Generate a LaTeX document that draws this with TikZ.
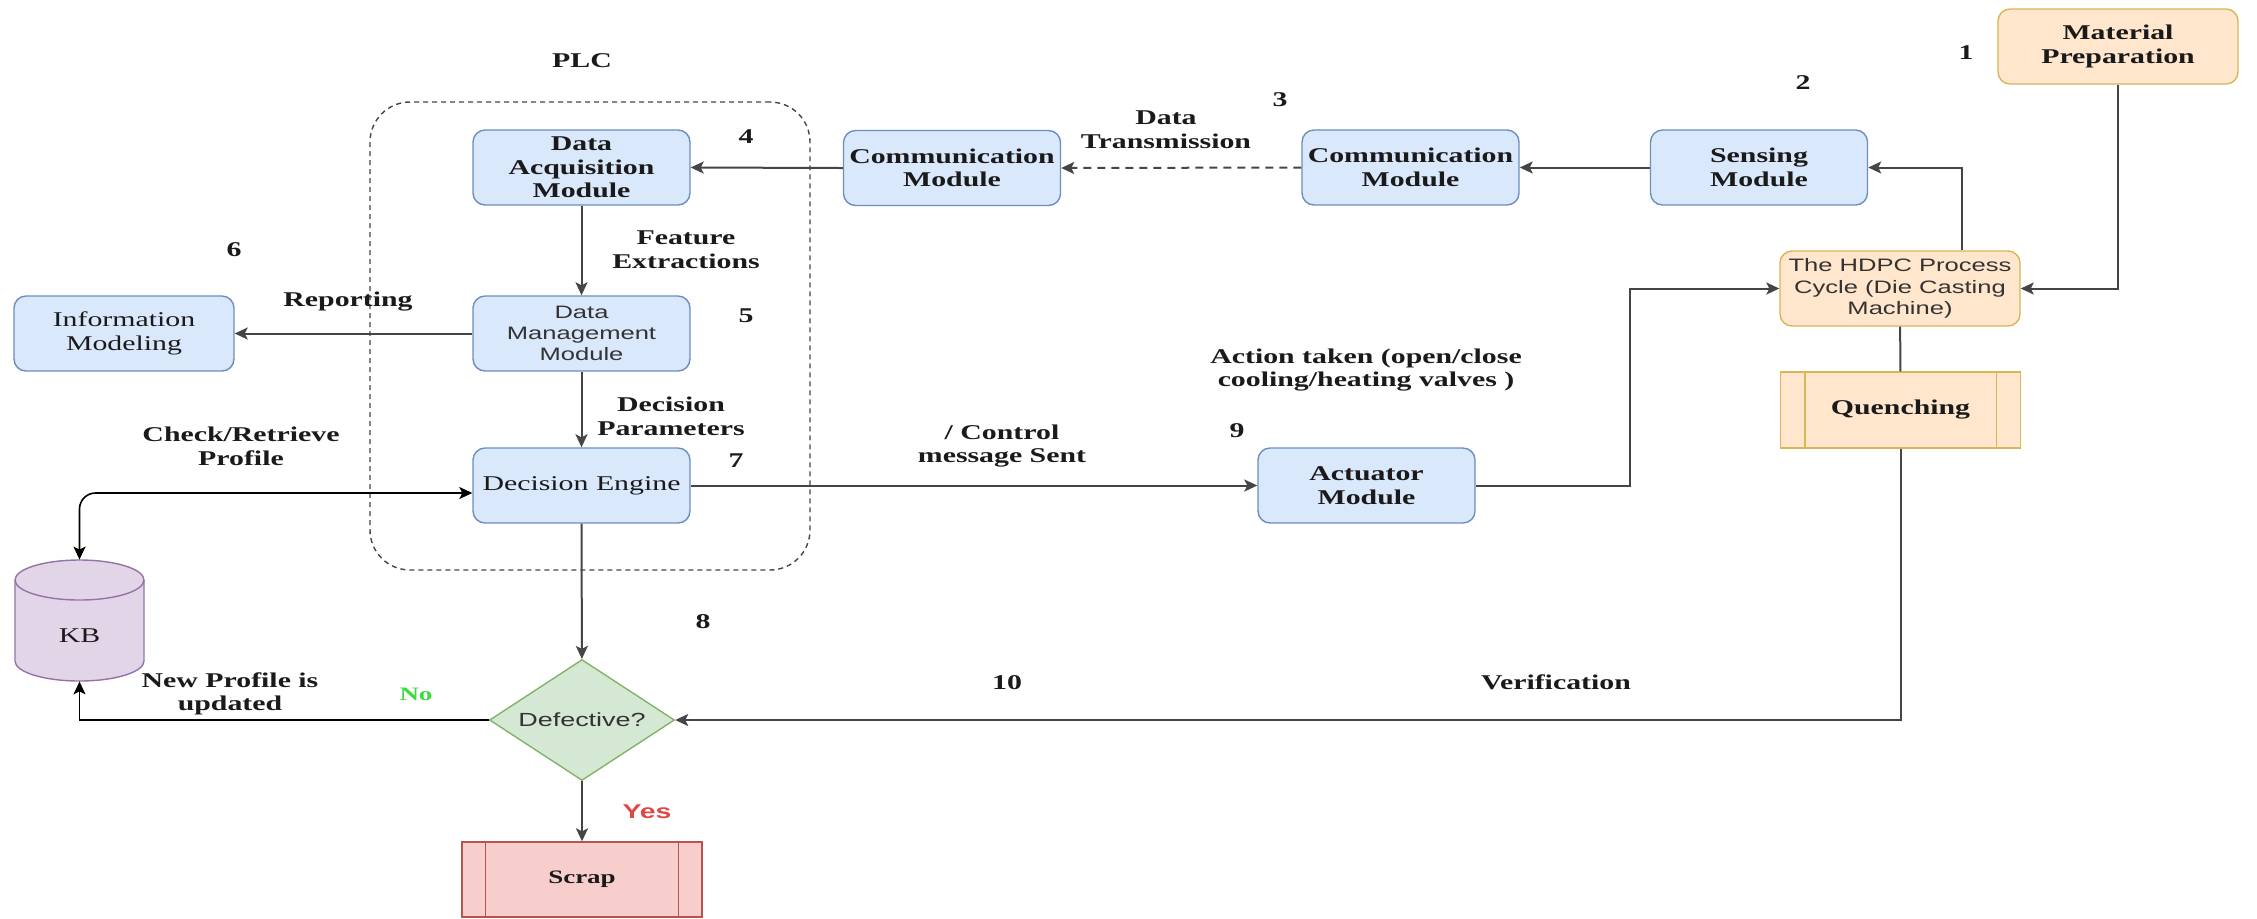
\documentclass[tikz,border=0pt]{standalone}
\usepackage{fontspec}
\setmainfont{Liberation Serif}[FakeStretch=1.42]
\newfontfamily\sansf{Liberation Sans}[FakeStretch=1.42]
\usetikzlibrary{arrows.meta,shapes.geometric,calc}

\definecolor{bluefill}{HTML}{DAE8FC}
\definecolor{bluedraw}{HTML}{6C8EBF}
\definecolor{orfill}{HTML}{FFE6CC}
\definecolor{ordraw}{HTML}{D6B656}
\definecolor{purfill}{HTML}{E1D5E7}
\definecolor{purdraw}{HTML}{9673A6}
\definecolor{grfill}{HTML}{D5E8D4}
\definecolor{grdraw}{HTML}{82B366}
\definecolor{redfill}{HTML}{F8CECC}
\definecolor{reddraw}{HTML}{B85450}
\definecolor{linec}{HTML}{454545}
\definecolor{yesred}{HTML}{E04848}
\definecolor{nogreen}{HTML}{3CDC3C}
\definecolor{txt}{HTML}{1A1A1A}
\definecolor{stxt}{HTML}{333333}

\newcommand\fbold{\fontsize{10.5}{11.8}\selectfont\bfseries}
\newcommand\freg{\fontsize{10.5}{11.8}\selectfont}
\newcommand\fsans{\sansf\fontsize{9}{10.6}\selectfont}

\begin{document}
\begin{tikzpicture}[x=0.5pt,y=-0.5pt,
  bbox/.style={draw=bluedraw, fill=bluefill, line width=0.7pt, rounded corners=6pt,
    minimum width=108.5pt, minimum height=37.5pt, inner sep=0pt, align=center, text=txt},
  obox/.style={bbox, draw=ordraw, fill=orfill, minimum width=120pt},
  procbox/.style={draw=ordraw, fill=orfill, line width=0.7pt, minimum width=120pt,
    minimum height=38pt, inner sep=0pt, align=center, text=txt},
  tip/.style={-{Stealth[length=6.5pt,width=6pt,inset=1.5pt]}},
  conn/.style={draw=linec, line width=1pt, tip},
  kbconn/.style={draw=black, line width=0.8pt},
  plain/.style={draw=linec, line width=1pt},
  lbl/.style={inner sep=0pt, align=center, font=\fbold, text=txt},
]
\useasboundingbox (0,0) rectangle (2257,918);

% PLC container
\node[draw=linec, line width=0.7pt, dash pattern=on 2.5pt off 2pt, rounded corners=20pt,
  minimum width=220pt, minimum height=234pt, inner sep=0pt] (plc) at (590,336) {};
\node[lbl] (plclbl) at (582,61) {PLC};

% boxes
\node[bbox, font=\fbold] (daq) at (581.5,167.5) {Data\\Acquisition\\Module};
\node[bbox, font=\fsans, text=stxt] (dmm) at (581.5,333.5) {Data\\Management\\Module};
\node[bbox, font=\freg] (de) at (581.5,485.5) {Decision Engine};
\node[bbox, font=\freg, minimum width=110pt] (info) at (124,333.5) {Information\\Modeling};
\node[bbox, font=\fbold] (comml) at (952,168) {Communication\\Module};
\node[bbox, font=\fbold] (commr) at (1410.5,167.5) {Communication\\Module};
\node[bbox, font=\fbold] (sens) at (1759,167.5) {Sensing\\Module};
\node[bbox, font=\fbold] (act) at (1366.5,485.5) {Actuator\\Module};
\node[obox, font=\fbold] (mat) at (2118,46.5) {Material\\Preparation};
\node[obox, font=\fsans, text=stxt] (hdpc) at (1900,288.5) {The HDPC Process\\Cycle (Die Casting\\Machine)};
\node[procbox, font=\fbold] (quen) at (1900.5,410) {Quenching};
\draw[ordraw, line width=0.7pt] ([xshift=12.5pt]quen.north west) -- ([xshift=12.5pt]quen.south west);
\draw[ordraw, line width=0.7pt] ([xshift=-12.5pt]quen.north east) -- ([xshift=-12.5pt]quen.south east);

% KB cylinder
\node[minimum width=64.5pt, minimum height=60.5pt, inner sep=0pt] (kb) at (79.5,620.5) {};
\path[draw=purdraw, fill=purfill, line width=0.7pt] (15,580) -- (15,661)
  arc[start angle=180, end angle=360, x radius=32.25pt, y radius=10pt] -- (144,580)
  arc[start angle=0, end angle=180, x radius=32.25pt, y radius=10pt] -- cycle;
\draw[purdraw, line width=0.7pt] (15,580) arc[start angle=180, end angle=360, x radius=32.25pt, y radius=10pt];
\node[font=\freg, text=txt, inner sep=0pt] (kbtext) at (79.5,636) {KB};

% decision diamond
\node[diamond, draw=grdraw, fill=grfill, line width=0.7pt, aspect=1.5, inner sep=0pt,
  minimum width=92.5pt, minimum height=60.5pt, font=\sansf\fontsize{9.5}{11}\selectfont, text=stxt] (dia) at (582,720) {Defective?};

% scrap
\node[procbox, draw=reddraw, fill=redfill, font=\fontsize{9.5}{10}\selectfont\bfseries, minimum height=37.5pt] (scrap) at (582,879.5) {Scrap};
\draw[reddraw, line width=0.7pt] ([xshift=12pt]scrap.north west) -- ([xshift=12pt]scrap.south west);
\draw[reddraw, line width=0.7pt] ([xshift=-12pt]scrap.north east) -- ([xshift=-12pt]scrap.south east);

% connectors
\draw[conn] (mat.south) |- (hdpc.east);
\draw[conn] ([xshift=31pt]hdpc.north) |- (sens.east);
\draw[conn] (sens.west) -- (commr.east);
\draw[conn, dash pattern=on 4pt off 3pt] (commr.west) -- (comml.east);
\draw[conn] (comml.west) -- (daq.east);
\draw[conn] (daq) -- (dmm);
\draw[conn] (dmm) -- (info);
\draw[conn] (dmm) -- (de);
\draw[conn] (de.east) -- (act.west);
\draw[conn] (act.east) -- ([xshift=77pt]act.east) |- (hdpc.west);
\draw[plain] (hdpc) -- (quen);
\draw[conn] (quen.south) |- (dia.east);
\draw[conn] (de) -- (dia);
\draw[conn] (dia) -- (scrap);
\draw[kbconn, tip] (dia.west) -| (kb.south);
\draw[kbconn, {Stealth[length=6.5pt,width=6pt,inset=1.5pt]}-{Stealth[length=6.5pt,width=6pt,inset=1.5pt]}, rounded corners=8pt]
  (kb.north) |- ([yshift=-3.75pt]de.west);

% labels
\node[lbl] (l1) at (1966,53) {1};
\node[lbl] (l2) at (1803,83) {2};
\node[lbl] (l3) at (1280,100) {3};
\node[lbl] (l4) at (746,137) {4};
\node[lbl] (l5) at (746,316) {5};
\node[lbl] (l6) at (234,250) {6};
\node[lbl] (l7) at (736,461) {7};
\node[lbl] (l8) at (703,622) {8};
\node[lbl] (l9) at (1237,431) {9};
\node[lbl] (l10) at (1007,683) {10};
\node[lbl] (ldt) at (1166,130) {Data\\Transmission};
\node[lbl] (lfe) at (686,250) {Feature\\Extractions};
\node[lbl] (lrep) at (348,302) {Reporting};
\node[lbl] (ldp) at (671,416) {Decision\\Parameters};
\node[lbl] (lcr) at (241,446) {Check/Retrieve\\Profile};
\node[lbl] (lcm) at (1002,446) {/ Control\\message Sent};
\node[lbl] (lat) at (1366,370) {Action taken (open/close\\cooling/heating valves )};
\node[lbl] (lnp) at (230,694) {New Profile is\\updated};
\node[lbl, text=nogreen, font=\fontsize{9.5}{11}\selectfont\bfseries] (lno) at (416,694) {No};
\node[lbl, text=yesred, font=\sansf\fontsize{10}{11}\selectfont\bfseries] (lyes) at (647,812) {Yes};
\node[lbl] (lver) at (1556,682) {Verification};
\end{tikzpicture}
\end{document}
